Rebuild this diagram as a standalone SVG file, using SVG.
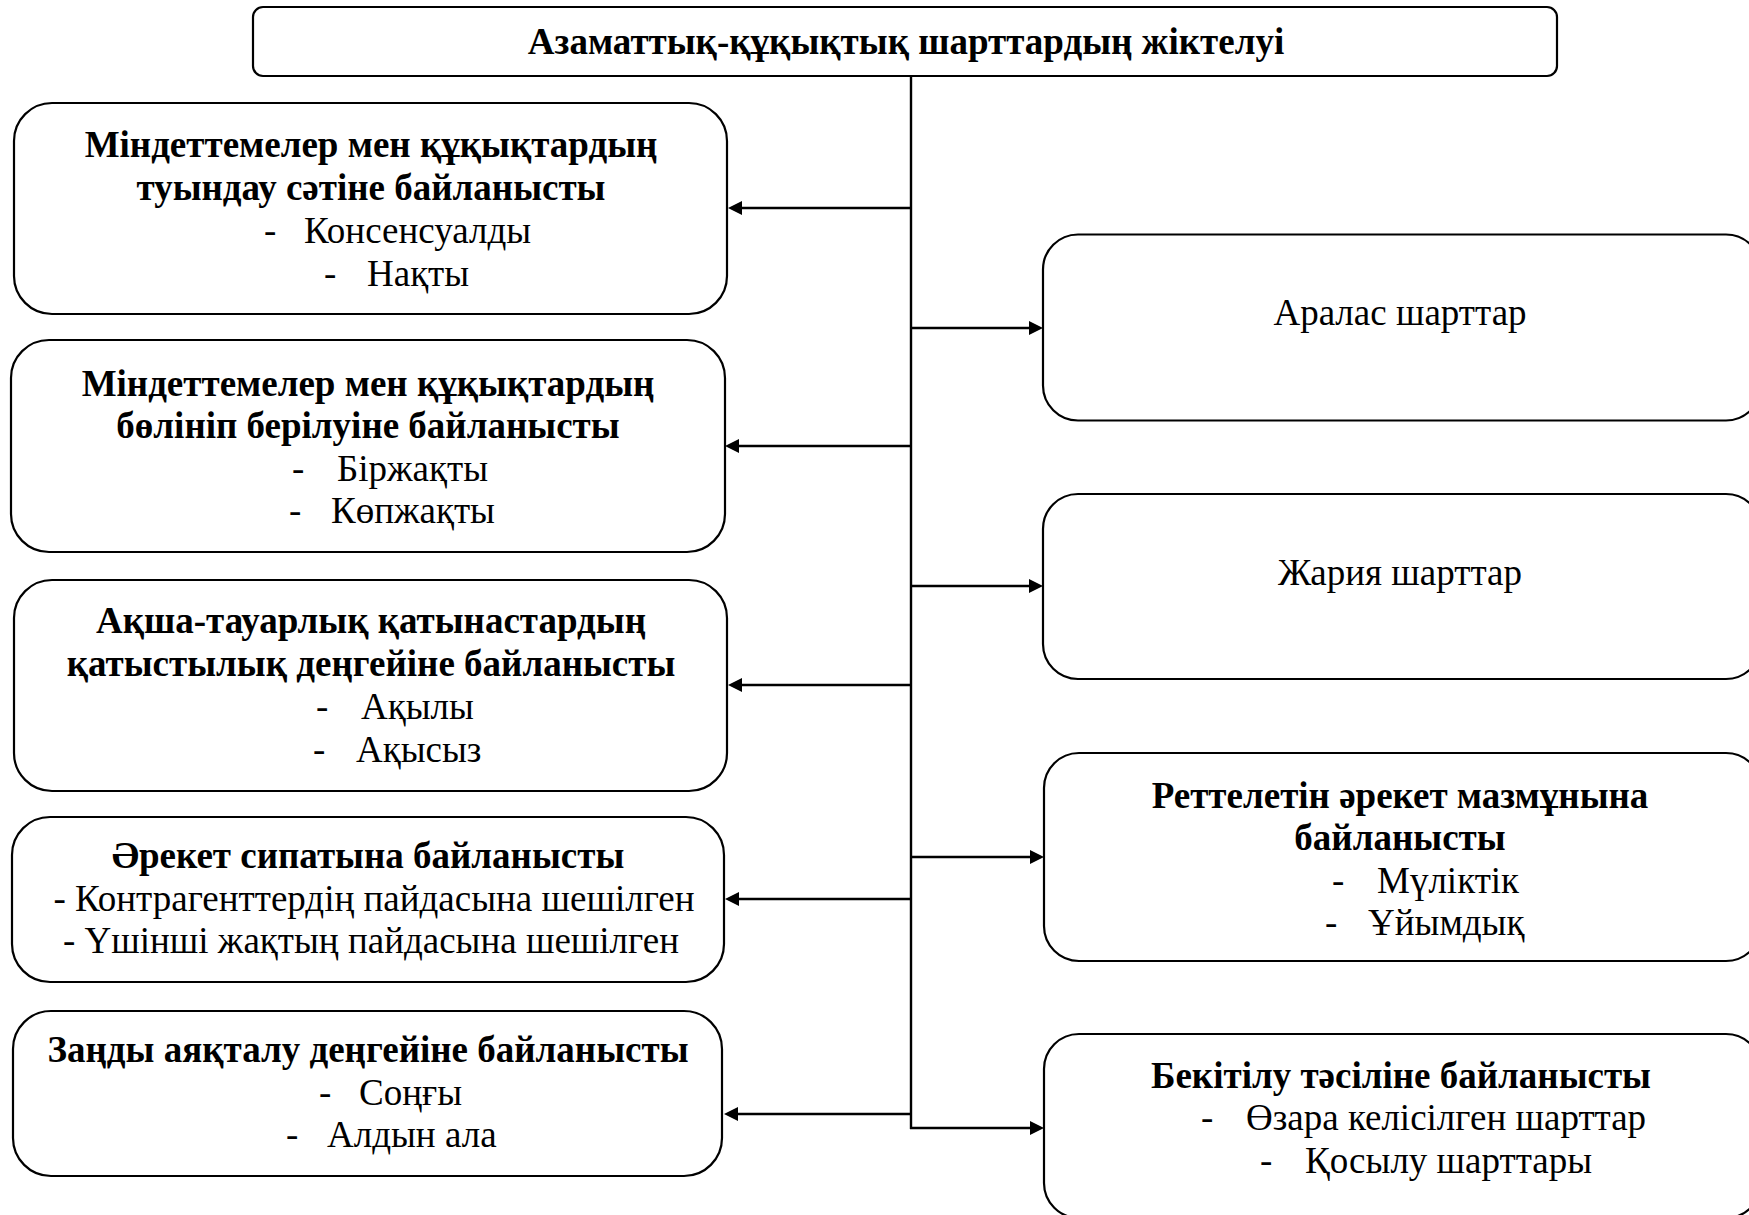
<svg xmlns="http://www.w3.org/2000/svg" width="1749" height="1215" viewBox="0 0 1749 1215">
<style>
  .box { fill: #ffffff; stroke: #000000; stroke-width: 2.2; }
  .ln { stroke: #000000; stroke-width: 2.4; fill: none; }
  .ah { fill: #000000; stroke: none; }
  text { font-family: "Liberation Serif", "Times New Roman", serif; font-size: 37px; fill: #000000; }
  .b { font-weight: bold; }
  .c { text-anchor: middle; }
</style>
<rect x="0" y="0" width="1749" height="1215" fill="#ffffff"/>

<g id="connectors">
  <line class="ln" x1="911" y1="76" x2="911" y2="1129"/>
  <line class="ln" x1="911" y1="208" x2="740" y2="208"/>
  <polygon class="ah" points="728,208 742,201 742,215"/>
  <line class="ln" x1="911" y1="446" x2="737" y2="446"/>
  <polygon class="ah" points="725,446 739,439 739,453"/>
  <line class="ln" x1="911" y1="685" x2="740" y2="685"/>
  <polygon class="ah" points="728,685 742,678 742,692"/>
  <line class="ln" x1="911" y1="899" x2="737" y2="899"/>
  <polygon class="ah" points="725,899 739,892 739,906"/>
  <line class="ln" x1="911" y1="1114" x2="736" y2="1114"/>
  <polygon class="ah" points="724,1114 738,1107 738,1121"/>
  <line class="ln" x1="910" y1="328" x2="1031" y2="328"/>
  <polygon class="ah" points="1043,328 1029,321 1029,335"/>
  <line class="ln" x1="910" y1="586" x2="1031" y2="586"/>
  <polygon class="ah" points="1043,586 1029,579 1029,593"/>
  <line class="ln" x1="910" y1="857" x2="1032" y2="857"/>
  <polygon class="ah" points="1044,857 1030,850 1030,864"/>
  <line class="ln" x1="910" y1="1128" x2="1032" y2="1128"/>
  <polygon class="ah" points="1044,1128 1030,1121 1030,1135"/>
</g>

<g id="top">
  <rect class="box" x="253" y="7" width="1304" height="69" rx="10"/>
  <text class="b c" x="906" y="54">Азаматтық-құқықтық шарттардың жіктелуі</text>
</g>

<g id="left1">
  <rect class="box" x="14" y="103" width="713" height="211" rx="38"/>
  <text class="b c" x="371" y="157">Міндеттемелер мен құқықтардың</text>
  <text class="b c" x="371" y="200">туындау сәтіне байланысты</text>
  <text x="264" y="243">-</text><text x="304" y="243">Консенсуалды</text>
  <text x="324" y="286">-</text><text x="367" y="286">Нақты</text>
</g>

<g id="left2">
  <rect class="box" x="11" y="340" width="714" height="212" rx="38"/>
  <text class="b c" x="368" y="396">Міндеттемелер мен құқықтардың</text>
  <text class="b c" x="368" y="438">бөлініп берілуіне байланысты</text>
  <text x="292" y="481">-</text><text x="337" y="481">Біржақты</text>
  <text x="289" y="523">-</text><text x="331" y="523">Көпжақты</text>
</g>

<g id="left3">
  <rect class="box" x="14" y="580" width="713" height="211" rx="38"/>
  <text class="b c" x="371" y="633">Ақша-тауарлық қатынастардың</text>
  <text class="b c" x="371" y="676">қатыстылық деңгейіне байланысты</text>
  <text x="316" y="719">-</text><text x="361" y="719">Ақылы</text>
  <text x="313" y="762">-</text><text x="356" y="762">Ақысыз</text>
</g>

<g id="left4">
  <rect class="box" x="12" y="817" width="712" height="165" rx="38"/>
  <text class="b c" x="368" y="868">Әрекет сипатына байланысты</text>
  <text class="c" x="374" y="911">- Контрагенттердің пайдасына шешілген</text>
  <text class="c" x="371" y="953">- Үшінші жақтың пайдасына шешілген</text>
</g>

<g id="left5">
  <rect class="box" x="13" y="1011" width="709" height="165" rx="38"/>
  <text class="b c" x="368" y="1062">Заңды аяқталу деңгейіне байланысты</text>
  <text x="319" y="1105">-</text><text x="359" y="1105">Соңғы</text>
  <text x="286" y="1147">-</text><text x="327" y="1147">Алдын ала</text>
</g>

<g id="right1">
  <rect class="box" x="1043" y="234.5" width="718" height="186" rx="35"/>
  <text class="c" x="1400" y="325">Аралас шарттар</text>
</g>

<g id="right2">
  <rect class="box" x="1043" y="494" width="718" height="185" rx="35"/>
  <text class="c" x="1400" y="585">Жария шарттар</text>
</g>

<g id="right3">
  <rect class="box" x="1044" y="753" width="717" height="208" rx="35"/>
  <text class="b c" x="1400" y="808">Реттелетін әрекет мазмұнына</text>
  <text class="b c" x="1400" y="850">байланысты</text>
  <text x="1332" y="893">-</text><text x="1377" y="893">Мүліктік</text>
  <text x="1325" y="935">-</text><text x="1368" y="935">Ұйымдық</text>
</g>

<g id="right4">
  <rect class="box" x="1044" y="1034" width="717" height="184" rx="35"/>
  <text class="b c" x="1401" y="1088">Бекітілу тәсіліне байланысты</text>
  <text x="1201" y="1130">-</text><text x="1246" y="1130">Өзара келісілген шарттар</text>
  <text x="1260" y="1173">-</text><text x="1305" y="1173">Қосылу шарттары</text>
</g>
</svg>
